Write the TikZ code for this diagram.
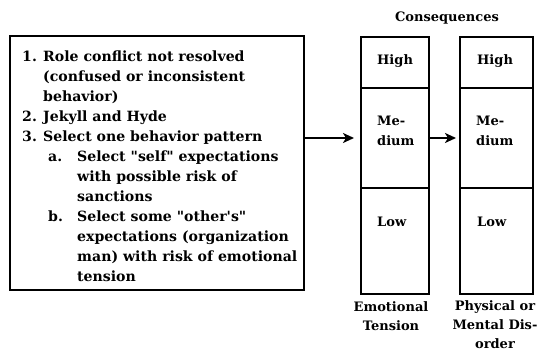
\documentclass[tikz,border=0pt]{standalone}
\usepackage{fontspec}
\setmainfont{DejaVu Serif}
\newfontfamily\boxfont{DejaVu Serif Bold}
\usetikzlibrary{arrows.meta}
\begin{document}
\begin{tikzpicture}[x=1pt,y=-1pt,
  frame/.style={draw, line width=1.8pt, inner sep=0pt, anchor=north west},
  ln/.style={anchor=base west, inner sep=0pt, font=\boxfont\fontsize{14.1}{18}\selectfont},
  lbl/.style={inner sep=0pt, font=\boxfont\fontsize{13}{19}\selectfont, align=center},
  cl/.style={inner sep=0pt, font=\boxfont\fontsize{13}{20}\selectfont, align=left, anchor=west},
  conn/.style={-{Stealth[length=11pt,width=10pt,inset=3pt]}, line width=1.8pt}
]
\useasboundingbox[fill=white] (0,0) rectangle (542,357);
% left box
\node[frame, minimum width=294pt, minimum height=254pt] (box) at (9,35) {};
\node[ln] (t1) at (22,61.5) {\makebox[21pt][l]{1.}Role conflict not resolved};
\node[ln] (t2) at (43,81.5) {(confused or inconsistent};
\node[ln] (t3) at (43,101.5) {behavior)};
\node[ln] (t4) at (22,121.5) {\makebox[21pt][l]{2.}Jekyll and Hyde};
\node[ln] (t5) at (22,141.5) {\makebox[21pt][l]{3.}Select one behavior pattern};
\node[ln] (t6) at (48,161.5) {\makebox[29pt][l]{a.}Select "self" expectations};
\node[ln] (t7) at (77,181.5) {with possible risk of};
\node[ln] (t8) at (77,201.5) {sanctions};
\node[ln] (t9) at (48,221.5) {\makebox[29pt][l]{b.}Select some "other's"};
\node[ln] (t10) at (77,241.5) {expectations (organization};
\node[ln] (t11) at (77,261.5) {man) with risk of emotional};
\node[ln] (t12) at (77,281.5) {tension};
% columns
\node[frame, minimum width=68pt, minimum height=51pt] (h1) at (360,36) {};
\node[frame, minimum width=68pt, minimum height=100pt] (m1) at (360,87) {};
\node[frame, minimum width=68pt, minimum height=106pt] (l1) at (360,187) {};
\node[frame, minimum width=73pt, minimum height=51pt] (h2) at (459,36) {};
\node[frame, minimum width=73pt, minimum height=100pt] (m2) at (459,87) {};
\node[frame, minimum width=73pt, minimum height=106pt] (l2) at (459,187) {};
% column texts
\node[lbl] (cons) at (447,18) {Consequences};
\node[cl] (th1) at (377,61) {High};
\node[cl] (tm1) at (377,131) {Me-\\dium};
\node[cl] (tl1) at (377,222) {Low};
\node[cl] (th2) at (477,61) {High};
\node[cl] (tm2) at (476,131) {Me-\\dium};
\node[cl] (tl2) at (477,222) {Low};
\node[lbl] (emo) at (391,316) {Emotional\\Tension};
\node[lbl] (phy) at (495,325) {Physical or\\Mental Dis-\\order};
% connectors
\coordinate (a1) at (0,138);
\draw[conn, shorten >=6pt] (box.east |- a1) -- (m1.west |- a1);
\draw[conn, shorten >=3pt] (m1.east |- a1) -- (m2.west |- a1);
\end{tikzpicture}
\end{document}
